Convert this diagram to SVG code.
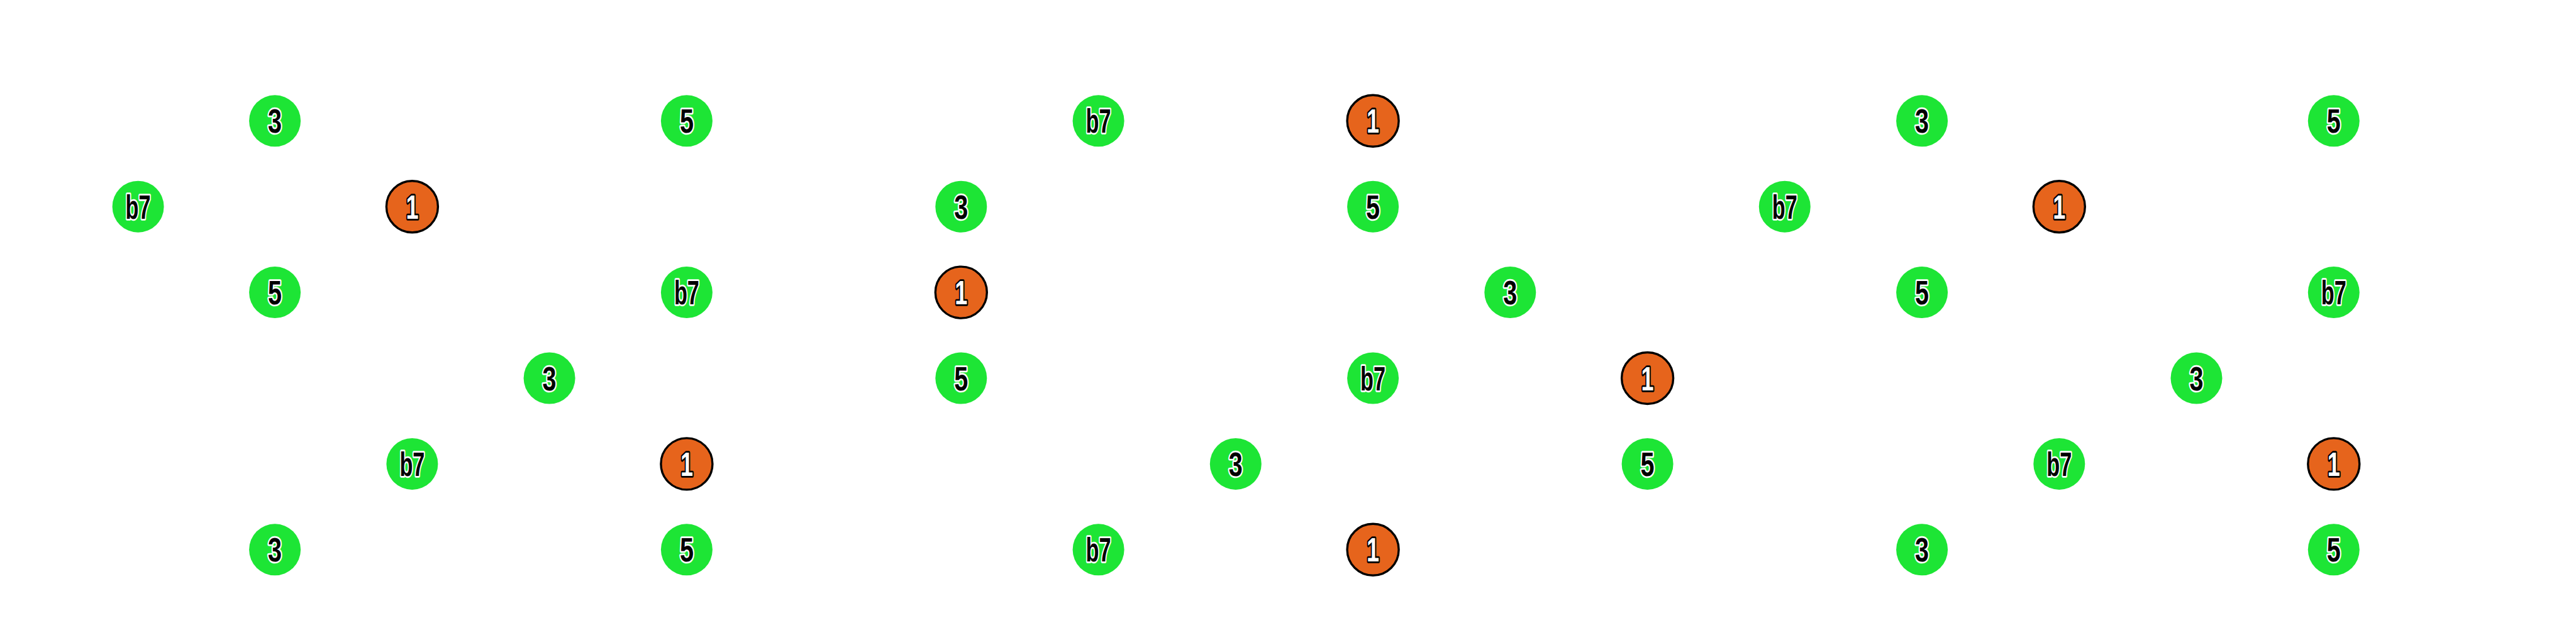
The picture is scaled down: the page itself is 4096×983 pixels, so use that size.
<svg xmlns="http://www.w3.org/2000/svg" width="4096" height="983" viewBox="0 0 4096 983">
<style>
.g{fill:#1de535}
.o{fill:#e6641c;stroke:#000;stroke-width:3.4}
text{font-family:"Liberation Sans",Arial,sans-serif;font-weight:bold;font-size:53px;text-anchor:start;paint-order:stroke;stroke-linejoin:round}
.tg{fill:#000;stroke:#fff;stroke-width:5.5}
.to{fill:#fff;stroke:#000;stroke-width:5.5}
</style>
<defs>
<circle id="cg" r="41" class="g"/>
<circle id="co" r="41" class="o"/>
</defs>
<rect width="4096" height="983" fill="#fff"/>
<!-- Panel 1 -->
<g id="p1-3a" transform="translate(437.1,192.3)"><use href="#cg"/><text class="tg" x="-11" y="19" textLength="22" lengthAdjust="spacingAndGlyphs">3</text></g>
<g id="p1-5a" transform="translate(1091.9,192.3)"><use href="#cg"/><text class="tg" x="-11" y="19" textLength="22" lengthAdjust="spacingAndGlyphs">5</text></g>
<g id="p1-b7a" transform="translate(219.6,328.7)"><use href="#cg"/><text class="tg" x="-20" y="19" textLength="40" lengthAdjust="spacingAndGlyphs">b7</text></g>
<g id="p1-1a" transform="translate(655.4,328.7)"><use href="#co"/><text class="to" x="-10" y="19" textLength="20" lengthAdjust="spacingAndGlyphs">1</text></g>
<g id="p1-5b" transform="translate(437.1,465.1)"><use href="#cg"/><text class="tg" x="-11" y="19" textLength="22" lengthAdjust="spacingAndGlyphs">5</text></g>
<g id="p1-b7b" transform="translate(1091.9,465.1)"><use href="#cg"/><text class="tg" x="-20" y="19" textLength="40" lengthAdjust="spacingAndGlyphs">b7</text></g>
<g id="p1-3b" transform="translate(873.6,601.5)"><use href="#cg"/><text class="tg" x="-11" y="19" textLength="22" lengthAdjust="spacingAndGlyphs">3</text></g>
<g id="p1-b7c" transform="translate(655.4,737.9)"><use href="#cg"/><text class="tg" x="-20" y="19" textLength="40" lengthAdjust="spacingAndGlyphs">b7</text></g>
<g id="p1-1b" transform="translate(1091.9,737.9)"><use href="#co"/><text class="to" x="-10" y="19" textLength="20" lengthAdjust="spacingAndGlyphs">1</text></g>
<g id="p1-3c" transform="translate(437.1,874.3)"><use href="#cg"/><text class="tg" x="-11" y="19" textLength="22" lengthAdjust="spacingAndGlyphs">3</text></g>
<g id="p1-5c" transform="translate(1091.9,874.3)"><use href="#cg"/><text class="tg" x="-11" y="19" textLength="22" lengthAdjust="spacingAndGlyphs">5</text></g>
<!-- Panel 2 -->
<g id="p2-b7a" transform="translate(1746.6,192.3)"><use href="#cg"/><text class="tg" x="-20" y="19" textLength="40" lengthAdjust="spacingAndGlyphs">b7</text></g>
<g id="p2-1a" transform="translate(2183.1,192.3)"><use href="#co"/><text class="to" x="-10" y="19" textLength="20" lengthAdjust="spacingAndGlyphs">1</text></g>
<g id="p2-3a" transform="translate(1528.3,328.7)"><use href="#cg"/><text class="tg" x="-11" y="19" textLength="22" lengthAdjust="spacingAndGlyphs">3</text></g>
<g id="p2-5a" transform="translate(2183.1,328.7)"><use href="#cg"/><text class="tg" x="-11" y="19" textLength="22" lengthAdjust="spacingAndGlyphs">5</text></g>
<g id="p2-1b" transform="translate(1528.3,465.1)"><use href="#co"/><text class="to" x="-10" y="19" textLength="20" lengthAdjust="spacingAndGlyphs">1</text></g>
<g id="p2-3b" transform="translate(2401.3,465.1)"><use href="#cg"/><text class="tg" x="-11" y="19" textLength="22" lengthAdjust="spacingAndGlyphs">3</text></g>
<g id="p2-5b" transform="translate(1528.3,601.5)"><use href="#cg"/><text class="tg" x="-11" y="19" textLength="22" lengthAdjust="spacingAndGlyphs">5</text></g>
<g id="p2-b7b" transform="translate(2183.1,601.5)"><use href="#cg"/><text class="tg" x="-20" y="19" textLength="40" lengthAdjust="spacingAndGlyphs">b7</text></g>
<g id="p2-1c" transform="translate(2619.6,601.5)"><use href="#co"/><text class="to" x="-10" y="19" textLength="20" lengthAdjust="spacingAndGlyphs">1</text></g>
<g id="p2-3c" transform="translate(1964.8,737.9)"><use href="#cg"/><text class="tg" x="-11" y="19" textLength="22" lengthAdjust="spacingAndGlyphs">3</text></g>
<g id="p2-5c" transform="translate(2619.6,737.9)"><use href="#cg"/><text class="tg" x="-11" y="19" textLength="22" lengthAdjust="spacingAndGlyphs">5</text></g>
<g id="p2-b7c" transform="translate(1746.6,874.3)"><use href="#cg"/><text class="tg" x="-20" y="19" textLength="40" lengthAdjust="spacingAndGlyphs">b7</text></g>
<g id="p2-1d" transform="translate(2183.1,874.3)"><use href="#co"/><text class="to" x="-10" y="19" textLength="20" lengthAdjust="spacingAndGlyphs">1</text></g>
<!-- Panel 3 -->
<g id="p3-3a" transform="translate(3056.1,192.3)"><use href="#cg"/><text class="tg" x="-11" y="19" textLength="22" lengthAdjust="spacingAndGlyphs">3</text></g>
<g id="p3-5a" transform="translate(3710.8,192.3)"><use href="#cg"/><text class="tg" x="-11" y="19" textLength="22" lengthAdjust="spacingAndGlyphs">5</text></g>
<g id="p3-b7a" transform="translate(2837.8,328.7)"><use href="#cg"/><text class="tg" x="-20" y="19" textLength="40" lengthAdjust="spacingAndGlyphs">b7</text></g>
<g id="p3-1a" transform="translate(3274.3,328.7)"><use href="#co"/><text class="to" x="-10" y="19" textLength="20" lengthAdjust="spacingAndGlyphs">1</text></g>
<g id="p3-5b" transform="translate(3056.1,465.1)"><use href="#cg"/><text class="tg" x="-11" y="19" textLength="22" lengthAdjust="spacingAndGlyphs">5</text></g>
<g id="p3-b7b" transform="translate(3710.8,465.1)"><use href="#cg"/><text class="tg" x="-20" y="19" textLength="40" lengthAdjust="spacingAndGlyphs">b7</text></g>
<g id="p3-3b" transform="translate(3492.5,601.5)"><use href="#cg"/><text class="tg" x="-11" y="19" textLength="22" lengthAdjust="spacingAndGlyphs">3</text></g>
<g id="p3-b7c" transform="translate(3274.3,737.9)"><use href="#cg"/><text class="tg" x="-20" y="19" textLength="40" lengthAdjust="spacingAndGlyphs">b7</text></g>
<g id="p3-1b" transform="translate(3710.8,737.9)"><use href="#co"/><text class="to" x="-10" y="19" textLength="20" lengthAdjust="spacingAndGlyphs">1</text></g>
<g id="p3-3c" transform="translate(3056.1,874.3)"><use href="#cg"/><text class="tg" x="-11" y="19" textLength="22" lengthAdjust="spacingAndGlyphs">3</text></g>
<g id="p3-5c" transform="translate(3710.8,874.3)"><use href="#cg"/><text class="tg" x="-11" y="19" textLength="22" lengthAdjust="spacingAndGlyphs">5</text></g>
</svg>
